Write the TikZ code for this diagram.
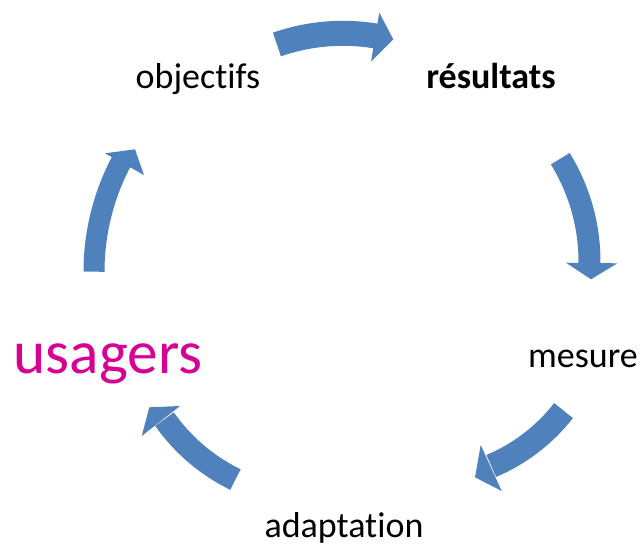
\documentclass[tikz,border=0pt]{standalone}
\usepackage{fontspec}
\setmainfont{Carlito}[Ligatures=NoCommon,RawFeature={-liga;-clig;-dlig}]
\definecolor{arrowblue}{RGB}{79,129,189}
\definecolor{usagercol}{RGB}{214,0,147}
\begin{document}
\begin{tikzpicture}[x=0.75pt,y=-0.75pt,
  body/.style={draw=arrowblue,line cap=butt},
  head/.style={fill=arrowblue},
  lbl/.style={anchor=base,inner sep=0pt,font=\fontsize{27}{32}\selectfont}]
\useasboundingbox (0,0) rectangle (641,547);
% labels
\node[lbl] (obj) at (198,88) {objectifs};
\node[lbl,font=\fontsize{27}{32}\selectfont\bfseries] (res) at (491,88) {résultats};
\node[lbl] (mes) at (583,367) {mesure};
\node[lbl] (ada) at (344,537) {adaptation};
\node[lbl,font=\fontsize{46}{54}\selectfont,text=usagercol] (usa) at (108,373) {usagers};
% arc centres of the arrows
\coordinate (k1) at (343,234.3);
\coordinate (k2) at (393.5,261.7);
\coordinate (k3) at (421.5,300);
\coordinate (k4) at (316.7,312.2);
\coordinate (k5) at (330,271.7);
% top arrow
\draw[body,line width=18.75pt] (k1) ++(-109.2:201) arc[start angle=-109.2,end angle=-80.3,radius=201];
\fill[head] (379.3,12.7) -- (393.3,39.3) -- (371,61.7) -- cycle;
% right arrow
\draw[body,line width=16.5pt] (k2) ++(-31.7:196) arc[start angle=-31.7,end angle=0.4,radius=196];
\fill[head] (566,262.7) -- (591,279.3) -- (617.3,263.3) -- cycle;
% lower right arrow
\draw[body,line width=18pt] (k3) ++(37.9:180) arc[start angle=37.9,end angle=67.2,radius=180];
\fill[head] (480.7,445) -- (475,477.3) -- (501.7,491) -- cycle;
% lower left arrow
\draw[body,line width=17.25pt] (k4) ++(115.9:186) arc[start angle=115.9,end angle=144.9,radius=186];
\fill[head] (180,406) -- (149.3,407.3) -- (141.7,436) -- cycle;
% left arrow
\draw[body,line width=15.75pt] (k5) ++(180:236) arc[start angle=180,end angle=208.2,radius=236];
\fill[head] (105,153.3) -- (135,149.3) -- (144,175) -- cycle;
\end{tikzpicture}
\end{document}
